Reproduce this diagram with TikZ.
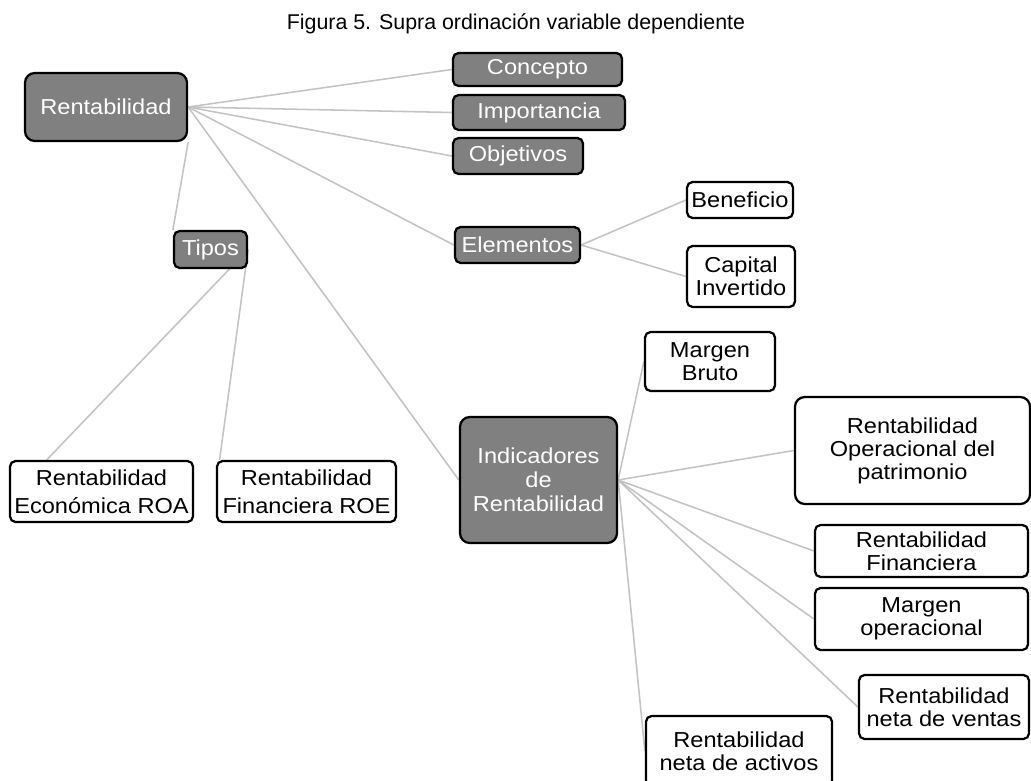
\documentclass[tikz,border=0pt]{standalone}
\usepackage{fontspec}
\setmainfont{Liberation Sans}
\newfontfamily\cajafont[FakeStretch=1.09]{Liberation Sans}
\usetikzlibrary{backgrounds}
\definecolor{cajagris}{RGB}{128,128,128}
\definecolor{lineagris}{RGB}{195,195,195}

\begin{document}
\begin{tikzpicture}[
		x=0.025cm, y=-0.025cm,
		tema/.style={
			draw=black,
			fill=cajagris,
			text=white,
			rounded corners=4pt,
			rectangle,
			line width=1.6pt,
			inner sep=1pt,
			align=center,
			font=\cajafont\fontsize{15.4}{16.4}\selectfont},
		hoja/.style= {
			tema,
			fill=white,
			text=black},
		rama/.style={
			draw=lineagris,
			line width=1.1pt}]
		\useasboundingbox (0,0) rectangle (1031,781);

		\node (titulo) at (516,24) {\fontsize{15.2}{18}\selectfont Figura 5. Supra ordinación variable dependiente};

		\node (rent) [tema, rounded corners=7pt, minimum width=4.05cm, minimum height=1.7cm] at (106,107) {Rentabilidad};
		\node (conc) [tema, minimum width=4.225cm, minimum height=0.825cm] at (537.5,69.5) {Concepto};
		\node (imp) [tema, minimum width=4.3cm, minimum height=0.875cm] at (539,112.5) {Importancia};
		\node (obj) [tema, minimum width=3.25cm, minimum height=0.9cm] at (518,156) {Objetivos};
		\node (tipos) [tema, minimum width=1.825cm, minimum height=0.925cm] at (210.5,249.5) {Tipos};
		\node (elem) [tema, minimum width=3.125cm, minimum height=0.9cm] at (517.5,245) {Elementos};
		\node (benef) [hoja, minimum width=2.65cm, minimum height=0.9cm] at (740,200) {Beneficio};
		\node (capital) [hoja, minimum width=2.7cm, minimum height=1.525cm] at (741,276.5) {Capital\\Invertido};

		\node (roa) [hoja, minimum width=4.575cm, minimum height=1.525cm, font=\cajafont\fontsize{15.4}{20}\selectfont] at (101.5,491.5) {Rentabilidad\\Económica ROA};
		\node (roe) [hoja, minimum width=4.475cm, minimum height=1.525cm, font=\cajafont\fontsize{15.4}{20}\selectfont] at (306.5,491.5) {Rentabilidad\\Financiera ROE};

		\node (indic) [tema, rounded corners=7pt, minimum width=3.925cm, minimum height=3.15cm, font=\cajafont\fontsize{15.4}{17}\selectfont] at (538.5,480) {Indicadores\\de\\Rentabilidad};
		\node (mbruto) [hoja, minimum width=3.25cm, minimum height=1.475cm] at (710,361.5) {Margen\\Bruto};
		\node (rop) [hoja, rounded corners=7pt, minimum width=5.875cm, minimum height=2.675cm] at (912.5,450.5) {Rentabilidad\\Operacional del\\patrimonio};
		\node (rfin) [hoja, minimum width=5.325cm, minimum height=1.3cm] at (921.5,551) {Rentabilidad\\Financiera};
		\node (mop) [hoja, minimum width=5.325cm, minimum height=1.55cm] at (921.5,619) {Margen\\operacional};
		\node (rnv) [hoja, minimum width=4.25cm, minimum height=1.6cm] at (944,707) {Rentabilidad\\neta de ventas};
		\node (rna) [hoja, minimum width=4.65cm, minimum height=1.75cm] at (739,751) {Rentabilidad\\neta de activos};

		\begin{scope}[on background layer]
			\foreach \dest in {conc, imp, obj, elem, indic}
				\draw [rama] (rent.east) -- (\dest.west);
			\draw [rama] (rent.south east) -- (tipos.north west);
			\draw [rama] (tipos.east) -- (roa.150);
			\draw [rama] (tipos.east) -- (roe.160);
			\draw [rama] (elem.east) -- (benef.west);
			\draw [rama] (elem.east) -- (capital.west);
			\foreach \dest in {mbruto, rop, rfin, mop, rnv, rna}
				\draw [rama] (indic.east) -- (\dest.west);
		\end{scope}

	\end{tikzpicture}
\end{document}
